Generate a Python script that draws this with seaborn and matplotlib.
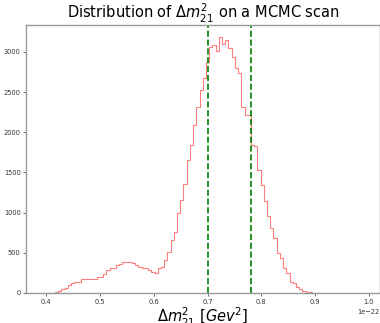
import numpy as np
import pandas as pd
import matplotlib
matplotlib.use('Agg')
import matplotlib.pyplot as plt
import seaborn as sns

# histogram counts (100 bins, values in units of 1e-22 Gev^2)
bin_lo = 0.392
bin_hi = 0.990
counts = [0, 1, 2, 5, 10, 20, 50, 62, 100, 124,
          141, 141, 174, 174, 174, 174, 174, 199, 199, 236,
          286, 315, 315, 349, 361, 382, 382, 382, 377, 349,
          328, 310, 310, 286, 265, 249, 310, 328, 411, 514,
          660, 763, 992, 1158, 1353, 1656, 1843, 2092, 2312, 2520,
          2680, 2870, 3066, 3080, 3013, 3180, 3096, 3150, 3054, 2934,
          2800, 2735, 2320, 2216, 2210, 1843, 1830, 1531, 1345, 1150,
          955, 810, 690, 500, 440, 310, 245, 140, 130, 80,
          50, 30, 15, 10, 5, 3, 2, 1, 1, 0,
          0, 1, 0, 0, 0, 0, 0, 0, 0, 1]
interval = [0.70, 0.78]

edges = np.linspace(bin_lo, bin_hi, len(counts) + 1) * 1e-22
df = pd.DataFrame({'dm21': (edges[:-1] + edges[1:]) / 2, 'n': counts})

fig, ax = plt.subplots(figsize=(3.8, 3.23), dpi=100)
fig.subplots_adjust(left=0.069, right=0.999, top=0.923, bottom=0.093)

sns.histplot(data=df, x='dm21', weights='n', bins=len(counts),
             binrange=(edges[0], edges[-1]), element='step', fill=False,
             color='red', alpha=0.5, linewidth=0.8, ax=ax)
for v in interval:
    ax.axvline(v * 1e-22, color='green', linestyle='--', linewidth=1.2)

ax.set_xlim(0.3626e-22, 1.020e-22)
ax.set_ylim(0, 3336)
ax.set_yticks([0, 500, 1000, 1500, 2000, 2500, 3000])
ax.set_ylabel('')
ax.set_title(r'Distribution of $\Delta m^2_{21}$ on a MCMC scan', fontsize=10.5, pad=3)
ax.set_xlabel(r'$\Delta m^2_{21}$ $[Gev^2]$', fontsize=10.5, labelpad=1)
ax.tick_params(labelsize=4.8, length=2, width=0.5, colors='#333333', pad=2)
ax.xaxis.get_offset_text().set_fontsize(4.8)
for s in ax.spines.values():
    s.set_color('#999999')
    s.set_linewidth(1.0)

fig.savefig('out.png', dpi=100)
